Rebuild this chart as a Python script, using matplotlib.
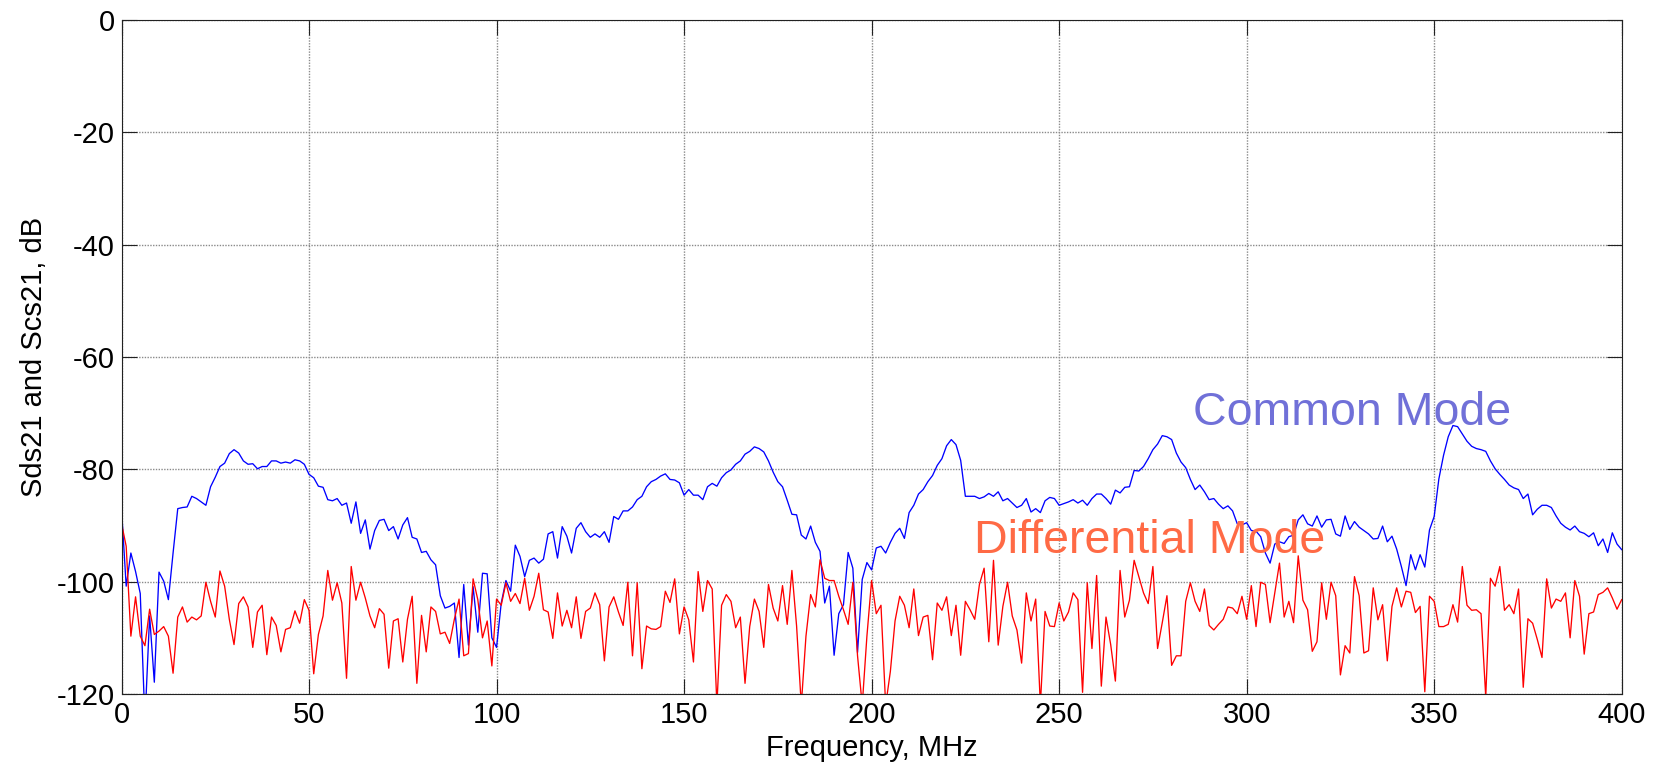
import numpy as np
import matplotlib
matplotlib.use("Agg")
import matplotlib.pyplot as plt

# Frequency axis: 321 points, 0 .. 400 MHz (1.25 MHz step)
freq_mhz = np.linspace(0, 400, 321)

common_mode_db = [
    -87.0, -100.8, -94.9, -98.2, -102.1, -125.0, -106.1, -117.9, -98.3, -99.9,
    -103.2, -94.9, -87.0, -86.8, -86.7, -84.8, -85.2, -85.8, -86.4, -83.1,
    -81.4, -79.5, -78.9, -77.2, -76.5, -77.1, -78.5, -79.1, -79.0, -79.9,
    -79.5, -79.5, -78.5, -78.5, -78.9, -78.7, -78.9, -78.3, -78.5, -79.1,
    -80.9, -81.5, -83.0, -83.2, -85.4, -85.6, -85.2, -86.4, -86.0, -89.6,
    -85.8, -91.4, -89.0, -94.2, -90.9, -89.1, -88.9, -90.9, -90.2, -92.4,
    -89.9, -88.6, -92.1, -92.4, -94.8, -94.6, -96.1, -97.0, -102.5, -104.7,
    -104.4, -103.8, -113.5, -100.5, -111.3, -100.9, -109.0, -98.5, -98.6, -110.0,
    -111.7, -103.8, -99.8, -101.7, -93.5, -95.5, -99.1, -96.2, -95.8, -96.7,
    -96.0, -91.5, -91.1, -95.8, -90.2, -91.9, -94.9, -90.5, -89.5, -91.1,
    -92.1, -91.5, -92.1, -91.1, -93.0, -88.4, -88.9, -87.4, -87.4, -86.7,
    -85.4, -84.8, -83.1, -82.2, -81.8, -81.2, -80.8, -81.8, -81.9, -82.4,
    -84.6, -83.6, -84.6, -84.6, -85.4, -83.1, -82.5, -83.0, -81.5, -80.6,
    -80.1, -79.1, -78.5, -77.3, -76.8, -76.0, -76.3, -76.9, -78.5, -80.5,
    -82.2, -83.1, -85.5, -88.0, -88.1, -91.7, -92.4, -90.1, -93.0, -94.6,
    -103.8, -100.8, -113.1, -105.7, -104.1, -94.8, -97.6, -112.6, -99.6, -96.6,
    -97.9, -94.0, -93.7, -94.9, -93.0, -91.4, -90.5, -92.3, -87.7, -86.4,
    -84.4, -83.6, -82.2, -81.1, -79.3, -78.1, -75.8, -74.7, -75.6, -78.4,
    -84.8, -84.8, -84.8, -85.2, -84.9, -84.3, -84.8, -84.0, -85.6, -85.2,
    -86.0, -86.8, -86.4, -85.2, -87.6, -87.0, -87.7, -85.6, -85.0, -85.2,
    -86.4, -86.1, -85.8, -85.4, -86.0, -85.5, -86.4, -85.2, -84.4, -84.4,
    -85.2, -86.2, -83.7, -84.2, -83.2, -83.1, -80.2, -80.3, -79.5, -78.1,
    -76.5, -75.5, -74.0, -74.2, -74.7, -77.1, -78.7, -79.7, -81.8, -83.6,
    -82.8, -84.0, -85.4, -85.2, -86.2, -87.0, -86.5, -87.4, -89.7, -89.9,
    -89.5, -90.9, -91.0, -92.0, -94.9, -96.7, -93.3, -92.9, -93.2, -92.0,
    -91.7, -89.0, -88.1, -89.7, -90.1, -88.3, -90.3, -89.0, -88.9, -91.5,
    -91.9, -88.3, -90.7, -89.3, -90.3, -90.9, -91.5, -92.4, -92.3, -90.1,
    -92.9, -91.9, -94.2, -97.3, -100.7, -95.2, -97.9, -95.2, -97.4, -90.8,
    -88.4, -81.7, -77.5, -74.2, -72.2, -72.4, -73.7, -75.0, -75.9, -76.3,
    -76.5, -76.8, -78.5, -79.9, -80.9, -81.8, -82.8, -83.3, -83.6, -85.2,
    -84.4, -88.1, -87.1, -86.4, -86.4, -86.8, -88.3, -89.6, -90.3, -90.8,
    -90.1, -91.1, -91.4, -92.0, -91.3, -93.6, -92.4, -94.8, -91.3, -93.3,
    -94.3,
]

differential_mode_db = [
    -89.6, -93.7, -109.7, -102.7, -109.7, -111.4, -104.9, -109.4, -108.8, -108.0,
    -109.7, -116.3, -106.3, -104.5, -107.2, -106.3, -106.8, -106.1, -100.1, -103.5,
    -106.3, -98.1, -100.8, -106.7, -111.2, -103.9, -102.7, -104.5, -111.7, -105.4,
    -104.2, -113.0, -106.3, -107.8, -112.5, -108.5, -108.2, -105.2, -107.4, -103.2,
    -105.1, -116.4, -109.4, -106.1, -98.0, -103.3, -100.2, -103.8, -117.2, -97.3,
    -103.3, -100.1, -102.9, -106.1, -108.2, -104.8, -105.8, -115.4, -107.0, -106.6,
    -114.3, -106.7, -102.6, -118.1, -106.0, -112.5, -104.5, -105.3, -109.3, -109.0,
    -111.0, -106.7, -103.1, -113.2, -112.8, -99.5, -103.2, -110.0, -107.0, -115.0,
    -103.1, -104.2, -100.2, -103.5, -102.1, -103.9, -99.4, -105.1, -102.6, -98.5,
    -105.0, -105.4, -110.1, -102.0, -107.9, -105.1, -108.2, -102.7, -110.1, -105.3,
    -104.7, -102.0, -104.1, -114.1, -104.5, -102.7, -105.4, -107.8, -100.1, -113.2,
    -100.2, -115.5, -107.9, -108.4, -108.5, -108.0, -101.7, -103.7, -99.5, -109.3,
    -104.5, -106.8, -114.3, -98.2, -105.3, -99.8, -101.3, -122.0, -104.2, -102.3,
    -103.5, -108.2, -106.3, -118.1, -108.0, -103.1, -105.3, -111.7, -100.5, -104.7,
    -107.0, -100.7, -107.6, -98.0, -107.9, -122.0, -109.7, -102.3, -104.5, -96.1,
    -99.4, -99.8, -99.8, -102.6, -105.0, -107.6, -100.1, -113.2, -122.0, -109.7,
    -99.8, -105.7, -104.2, -122.0, -116.0, -107.0, -102.6, -104.2, -108.2, -101.3,
    -109.6, -106.3, -106.0, -113.9, -103.8, -105.1, -102.7, -109.6, -104.2, -113.1,
    -103.5, -105.0, -106.7, -100.5, -97.6, -110.7, -96.2, -111.3, -104.4, -100.1,
    -106.1, -108.6, -114.5, -102.0, -107.0, -103.1, -122.0, -105.3, -107.9, -108.0,
    -103.8, -107.0, -105.4, -102.0, -103.2, -119.7, -100.2, -111.9, -98.9, -118.6,
    -106.3, -111.2, -117.7, -98.0, -106.3, -103.3, -96.2, -99.1, -102.0, -103.9,
    -97.3, -111.9, -107.3, -102.5, -114.9, -113.2, -113.2, -103.5, -100.2, -103.5,
    -105.3, -101.3, -107.8, -108.6, -107.6, -106.7, -104.5, -104.7, -105.7, -102.6,
    -106.7, -100.7, -108.0, -100.1, -100.5, -107.3, -102.0, -96.7, -106.3, -103.5,
    -107.3, -95.4, -103.3, -105.0, -112.4, -110.7, -100.2, -106.7, -100.1, -102.5,
    -116.6, -111.4, -112.7, -99.1, -102.5, -112.7, -112.3, -101.1, -106.8, -104.1,
    -114.1, -104.4, -101.1, -104.5, -101.7, -101.9, -105.5, -104.4, -119.6, -102.6,
    -103.5, -108.0, -108.0, -107.6, -104.1, -107.2, -97.3, -104.2, -105.1, -105.0,
    -105.7, -120.5, -99.4, -100.8, -97.3, -105.1, -104.1, -105.7, -101.3, -118.8,
    -106.6, -107.4, -110.3, -113.5, -99.5, -104.7, -103.1, -103.5, -102.0, -110.0,
    -99.8, -102.6, -112.9, -105.7, -105.4, -102.3, -101.9, -101.1, -102.9, -104.9,
    -103.2,
]

x_ticks = [0, 50, 100, 150, 200, 250, 300, 350, 400]
y_ticks = [-120, -100, -80, -60, -40, -20, 0]
x_label = "Frequency, MHz"
y_label = "Sds21 and Scs21, dB"
label_common = "Common Mode"
label_diff = "Differential Mode"

plt.rcParams['font.family'] = ['Liberation Sans', 'DejaVu Sans']
plt.rcParams['axes.unicode_minus'] = False

fig = plt.figure(figsize=(16.61, 7.69), dpi=100)
ax = fig.add_axes([121.5 / 1661, 1 - 694 / 769, 1500.2 / 1661, 674 / 769])

ax.plot(freq_mhz, common_mode_db, color='#0000ff', lw=0.95)
ax.plot(freq_mhz, differential_mode_db, color='#ff0000', lw=0.95)

ax.set_xlim(0, 400)
ax.set_ylim(-120, 0)
ax.set_xticks(x_ticks)
ax.set_yticks(y_ticks)
ax.grid(True, color='#8a8a8a', linestyle=(0, (1, 1)), linewidth=1.0)
ax.set_axisbelow(True)

ax.tick_params(direction='in', length=10.5, width=0.8, color='#222222',
               top=True, right=True, labelsize=21, pad=5)
for s in ax.spines.values():
    s.set_linewidth(0.8)
    s.set_color('#222222')

ax.set_xlabel(x_label, fontsize=21)
ax.set_ylabel(y_label, fontsize=21)
ax.xaxis.set_label_coords(0.5, -0.059)
ax.yaxis.set_label_coords(-0.049, 0.5)

ax.text(285.7, -72.1, label_common, color='#7070d8', fontsize=33.5,
        ha='left', va='baseline')
ax.text(227.3, -94.9, label_diff, color='#ff6a45', fontsize=33.5,
        ha='left', va='baseline')

fig.savefig("out.png", dpi=100)
